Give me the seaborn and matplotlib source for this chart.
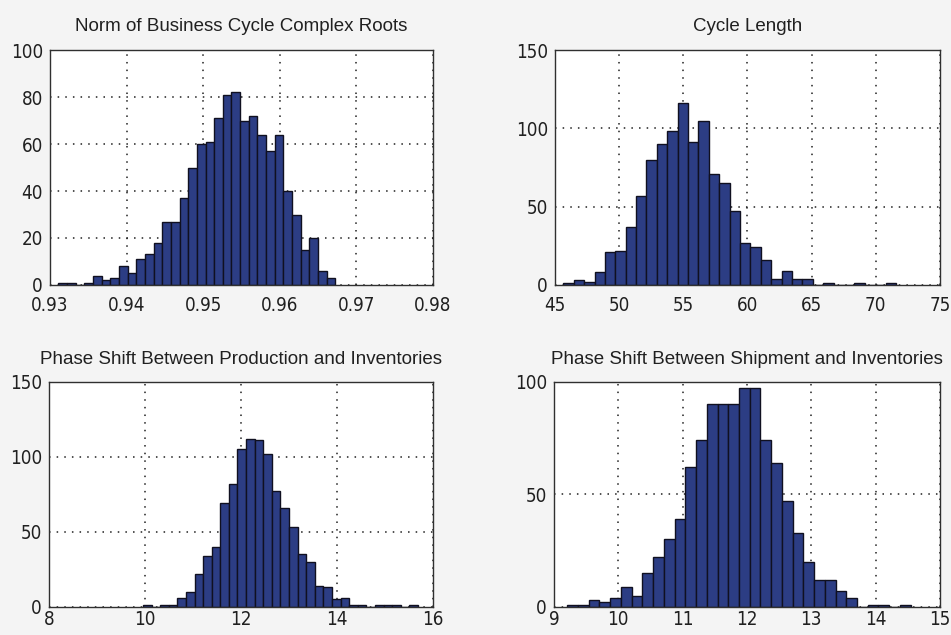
import numpy as np
import pandas as pd
import matplotlib
matplotlib.use("Agg")
import matplotlib.pyplot as plt
import seaborn as sns

sns.set_theme(style="white")
plt.rcParams['font.family'] = ['DejaVu Sans']

# ---- Data (histogram counts) ----
titles = ["Norm of Business Cycle Complex Roots",
          "Cycle Length",
          "Phase Shift Between Production and Inventories",
          "Phase Shift Between Shipment and Inventories"]

norm_start, norm_width = 0.93109, 0.00113
norm_counts = [1, 1, 0, 1, 4, 2, 3, 8, 5, 11, 13, 18, 27, 27, 37, 50,
               60, 61, 71, 81, 82, 70, 72, 64, 57, 64, 40, 30, 15, 20, 6, 3]

cycle_start, cycle_width = 45.65, 0.81
cycle_counts = [1, 3, 2, 8, 21, 22, 37, 57, 80, 90, 98, 116, 91, 105, 71, 65,
                47, 27, 24, 16, 4, 9, 4, 4, 0, 1, 0, 0, 1, 0, 0, 1]

prod_start, prod_width = 9.958, 0.179
prod_counts = [1, 0, 1, 1, 6, 10, 22, 34, 40, 69, 82, 105, 112, 111, 102, 77,
               66, 53, 35, 30, 14, 13, 5, 6, 1, 1, 0, 1, 1, 1, 0, 1]

ship_start, ship_width = 9.207, 0.1668
ship_counts = [1, 1, 3, 2, 4, 9, 5, 15, 22, 30, 39, 62, 74, 90, 90, 90,
               97, 97, 74, 64, 47, 33, 20, 12, 12, 7, 4, 0, 1, 1, 0, 1]

xlims = [(0.93, 0.98), (45, 75), (8, 16), (9, 15)]
xticks = [[0.93, 0.94, 0.95, 0.96, 0.97, 0.98],
          [45, 50, 55, 60, 65, 70, 75],
          [8, 10, 12, 14, 16],
          [9, 10, 11, 12, 13, 14, 15]]
xticklabels = [["0.93", "0.94", "0.95", "0.96", "0.97", "0.98"],
               ["45", "50", "55", "60", "65", "70", "75"],
               ["8", "10", "12", "14", "16"],
               ["9", "10", "11", "12", "13", "14", "15"]]
ylims = [(0, 100), (0, 150), (0, 150), (0, 100)]
yticks = [[0, 20, 40, 60, 80, 100], [0, 50, 100, 150], [0, 50, 100, 150], [0, 50, 100]]

series = [(norm_start, norm_width, norm_counts),
          (cycle_start, cycle_width, cycle_counts),
          (prod_start, prod_width, prod_counts),
          (ship_start, ship_width, ship_counts)]

bar_color = "#2c3d84"
bg = "#f4f4f4"

fig = plt.figure(figsize=(9.51, 6.35), dpi=100, facecolor=bg)
positions = [[0.0526, 0.5512, 0.4027, 0.370],
             [0.5836, 0.5512, 0.4048, 0.370],
             [0.0515, 0.0441, 0.4038, 0.355],
             [0.5825, 0.0441, 0.4059, 0.355]]

for i, (start, width, counts) in enumerate(series):
    ax = fig.add_axes(positions[i])
    ax.set_facecolor("white")
    n = len(counts)
    centers = start + width * (np.arange(n) + 0.5)
    df = pd.DataFrame({"x": centers, "w": np.asarray(counts, dtype=float)})
    sns.histplot(data=df, x="x", weights="w", bins=n,
                 binrange=(start, start + n * width), ax=ax,
                 color=bar_color, edgecolor="#101020", linewidth=1.0, alpha=1.0)
    ax.set_xlim(*xlims[i])
    ax.set_ylim(*ylims[i])
    ax.set_xticks(xticks[i])
    ax.set_xticklabels(xticklabels[i])
    ax.set_yticks(yticks[i])
    ax.set_xlabel("")
    ax.set_ylabel("")
    ax.grid(True, color="#202020", linestyle=(0, (1, 4)), linewidth=1.1)
    ax.set_axisbelow(True)
    for sp in ax.spines.values():
        sp.set_color("#303030")
        sp.set_linewidth(1.0)
    ax.tick_params(direction="in", length=4, width=0.8, colors="#303030",
                   labelcolor="#202020")
    for lab in ax.get_xticklabels() + ax.get_yticklabels():
        lab.set_fontsize(13.5)
        lab.set_fontstretch("condensed")
    ax.tick_params(axis="x", pad=8 if i < 2 else 2.5)
    ax.tick_params(axis="y", pad=5)
    ax.set_title(titles[i], fontsize=13.5, color="#202020",
                 family=["Liberation Sans", "DejaVu Sans"],
                 pad=13.5 if i < 2 else 12.5)

fig.savefig("out.png", dpi=100, facecolor=bg)
